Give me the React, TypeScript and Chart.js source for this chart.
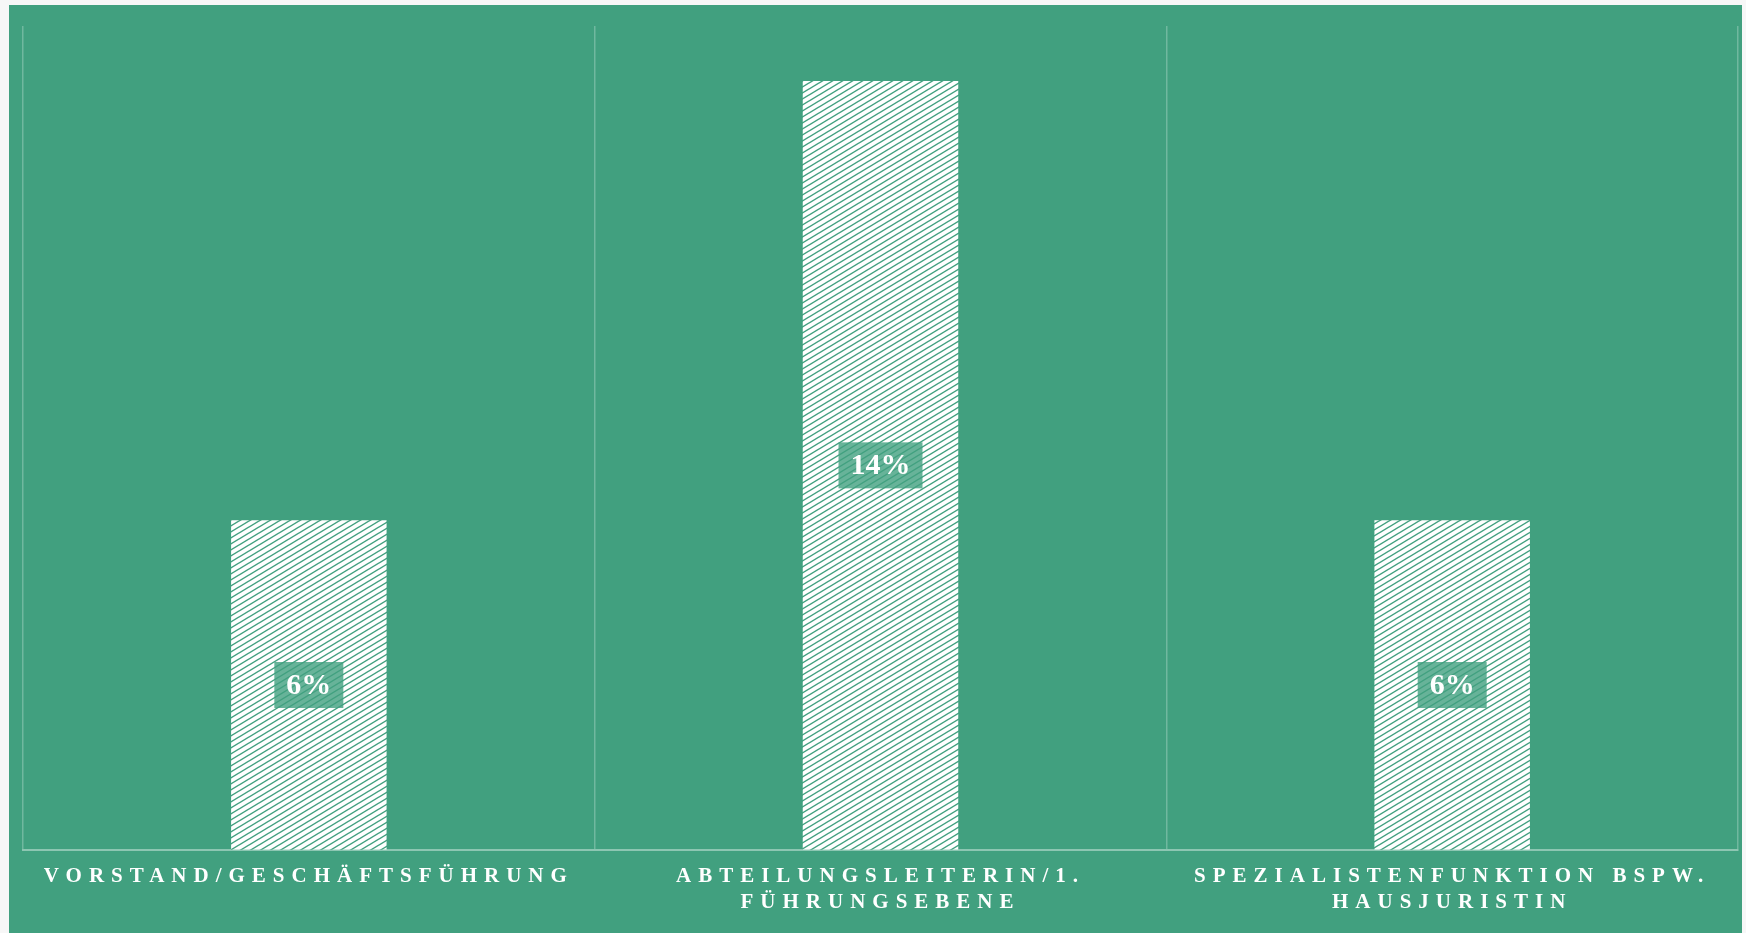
import React, { useEffect, useRef } from "react";
import { Chart, registerables } from "chart.js";

Chart.register(...registerables);

const categories: string[][] = [
  ["VORSTAND/GESCHÄFTSFÜHRUNG"],
  ["ABTEILUNGSLEITERIN/1.", "FÜHRUNGSEBENE"],
  ["SPEZIALISTENFUNKTION BSPW.", "HAUSJURISTIN"],
];
const values: number[] = [6, 14, 6];
const Y_MIN = 0;
const Y_MAX = 15;

const GREEN = "rgb(65,160,127)";
const SERIF = '"Liberation Serif", "Times New Roman", serif';

function makePattern(): CanvasPattern | string {
  const W = 10;
  const H = 6;
  const c = document.createElement("canvas");
  c.width = W;
  c.height = H;
  const g = c.getContext("2d");
  if (!g) return "#ffffff";
  g.fillStyle = "#ffffff";
  g.fillRect(0, 0, W, H);
  g.strokeStyle = GREEN;
  g.lineWidth = 1.4;
  for (const dx of [-W, 0, W]) {
    g.beginPath();
    g.moveTo(dx - 2, H + 1.2);
    g.lineTo(dx + W + 2, -1.2);
    g.stroke();
  }
  const p = g.createPattern(c, "repeat");
  return p || "#ffffff";
}

const valueLabelPlugin = {
  id: "valueLabels",
  beforeDraw(chart: any) {
    chart.ctx.letterSpacing = "7px";
  },
  afterDatasetsDraw(chart: any) {
    const ctx = chart.ctx as CanvasRenderingContext2D;
    ctx.save();
    (ctx as any).letterSpacing = "0px";
    const meta = chart.getDatasetMeta(0);
    const data = chart.data.datasets[0].data as number[];
    ctx.font = `bold 30px ${SERIF}`;
    ctx.textAlign = "center";
    ctx.textBaseline = "middle";
    meta.data.forEach((bar: any, i: number) => {
      const text = `${data[i]}%`;
      const cx = bar.x;
      const cy = (bar.y + bar.base) / 2;
      const w = ctx.measureText(text).width + 24;
      const h = 46;
      ctx.fillStyle = "rgba(65,160,127,0.8)";
      ctx.fillRect(cx - w / 2, cy - h / 2, w, h);
      ctx.fillStyle = "#ffffff";
      ctx.fillText(text, cx, cy + 1);
    });
    ctx.restore();
  },
};

export default function App() {
  const canvasRef = useRef<HTMLCanvasElement | null>(null);

  useEffect(() => {
    document.body.style.margin = "0";
    document.body.style.background = "#f7f7f7";
    document.body.style.overflow = "hidden";
    const canvas = canvasRef.current;
    if (!canvas) return;
    const chart = new Chart(canvas, {
      type: "bar",
      data: {
        labels: categories,
        datasets: [
          {
            data: values,
            backgroundColor: makePattern() as any,
            borderWidth: 0,
            categoryPercentage: 1,
            barPercentage: 0.272,
          },
        ],
      },
      options: {
        animation: false,
        responsive: true,
        maintainAspectRatio: false,
        layout: { padding: { left: 14, right: 4, top: 21, bottom: 4 } },
        plugins: {
          legend: { display: false },
          tooltip: { enabled: false },
        },
        scales: {
          x: {
            grid: {
              display: true,
              offset: true,
              drawTicks: false,
              color: "rgba(255,255,255,0.25)",
              lineWidth: 1.5,
            },
            border: { display: true, color: "rgba(255,255,255,0.4)", width: 2 },
            ticks: {
              color: "#ffffff",
              font: { family: SERIF, size: 21, weight: "bold", lineHeight: 1.22 },
              padding: 14,
              maxRotation: 0,
              minRotation: 0,
              autoSkip: false,
            },
          },
          y: {
            display: false,
            min: Y_MIN,
            max: Y_MAX,
          },
        },
      },
      plugins: [valueLabelPlugin],
    });
    return () => chart.destroy();
  }, []);

  return (
    <div
      style={{
        position: "absolute",
        left: 9,
        top: 5,
        width: 1733,
        height: 928,
        background: GREEN,
      }}
    >
      <canvas ref={canvasRef} />
    </div>
  );
}
